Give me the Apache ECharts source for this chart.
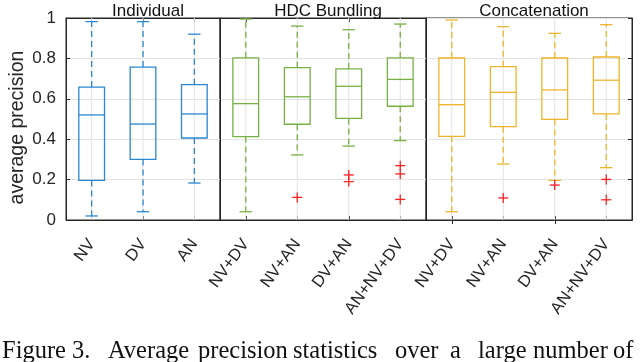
<!DOCTYPE html>
<html><head><meta charset="utf-8">
<script src="https://cdn.jsdelivr.net/npm/echarts@6/dist/echarts.min.js"></script>
<style>html,body{margin:0;padding:0;background:#fff}#c{width:640px;height:362px}</style>
</head><body><div id="c"></div><script>
// ---------- data ----------
const panelTitles = ['Individual', 'HDC Bundling', 'Concatenation'];
const catsIndividual = ['NV', 'DV', 'AN'];
const catsBundling = ['NV+DV', 'NV+AN', 'DV+AN', 'AN+NV+DV'];
const catsConcat = ['NV+DV', 'NV+AN', 'DV+AN', 'AN+NV+DV'];
// [lower whisker, Q1, median, Q3, upper whisker]
const statsIndividual = [
  [0.020, 0.196, 0.520, 0.658, 0.982],
  [0.041, 0.300, 0.475, 0.757, 0.982],
  [0.183, 0.406, 0.525, 0.670, 0.920]
];
const statsBundling = [
  [0.041, 0.413, 0.576, 0.803, 0.995],
  [0.322, 0.474, 0.610, 0.754, 0.960],
  [0.366, 0.503, 0.662, 0.748, 0.942],
  [0.393, 0.563, 0.696, 0.803, 0.970]
];
const statsConcat = [
  [0.041, 0.414, 0.571, 0.802, 0.990],
  [0.277, 0.462, 0.632, 0.759, 0.957],
  [0.196, 0.498, 0.644, 0.802, 0.924],
  [0.259, 0.525, 0.692, 0.807, 0.967]
];
// outliers: [category index, value]
const outIndividual = [];
const outBundling = [[1, 0.112], [2, 0.223], [2, 0.190], [3, 0.269], [3, 0.228], [3, 0.102]];
const outConcat = [[1, 0.109], [2, 0.173], [3, 0.201], [3, 0.100]];
const yAxisTitle = 'average precision';
const captionWords = ['Figure', '3.', 'Average', 'precision', 'statistics', 'over', 'a', 'large', 'number', 'of'];

// ---------- layout / style ----------
const captionX = [2, 72, 108, 198, 293, 395, 450, 478, 533, 613];
const colors = ['#2b87cf', '#78b143', '#efb52a'];
const FONT = 'Liberation Sans, Arial, Helvetica, sans-serif';
const TXT = '#262626';
const gridsPos = [{left: 66, width: 154}, {left: 220, width: 206}, {left: 426, width: 206}];
const cats = [catsIndividual, catsBundling, catsConcat];
const stats = [statsIndividual, statsBundling, statsConcat];
const outs = [outIndividual, outBundling, outConcat];

function boxRender(color) {
  return function (params, api) {
    const i = api.value(0);
    const slot = api.size([1, 0])[0];
    const bw = slot * 0.5, cw = slot * 0.24;
    const c = v => api.coord([i, v]);
    const lo = c(api.value(1)), q1 = c(api.value(2)), md = c(api.value(3)), q3 = c(api.value(4)), hi = c(api.value(5));
    const x = md[0];
    const solid = {stroke: color, lineWidth: 1.3, fill: null};
    const dashed = {stroke: color, lineWidth: 1.3, fill: null, lineDash: [6, 4]};
    return {
      type: 'group',
      children: [
        {type: 'line', shape: {x1: x, y1: q3[1], x2: x, y2: hi[1]}, style: dashed},
        {type: 'line', shape: {x1: x, y1: q1[1], x2: x, y2: lo[1]}, style: dashed},
        {type: 'line', shape: {x1: x - cw / 2, y1: hi[1], x2: x + cw / 2, y2: hi[1]}, style: solid},
        {type: 'line', shape: {x1: x - cw / 2, y1: lo[1], x2: x + cw / 2, y2: lo[1]}, style: solid},
        {type: 'rect', shape: {x: x - bw / 2, y: q3[1], width: bw, height: q1[1] - q3[1]}, style: solid},
        {type: 'line', shape: {x1: x - bw / 2, y1: md[1], x2: x + bw / 2, y2: md[1]}, style: solid}
      ]
    };
  };
}
function outlierRender(params, api) {
  const p = api.coord([api.value(0), api.value(1)]);
  const h = 5;
  const st = {stroke: '#ff2020', lineWidth: 1.3};
  return {type: 'group', children: [
    {type: 'line', shape: {x1: p[0] - h, y1: p[1], x2: p[0] + h, y2: p[1]}, style: st},
    {type: 'line', shape: {x1: p[0], y1: p[1] - h, x2: p[0], y2: p[1] + h}, style: st}
  ]};
}
function vgridRender(params, api) {
  const a = api.coord([api.value(0), 0]), b = api.coord([api.value(0), 1]);
  return {type: 'line', shape: {x1: a[0], y1: a[1], x2: b[0], y2: b[1]}, style: {stroke: '#e3e3e3', lineWidth: 1}};
}

const grids = [], xAxes = [], yAxes = [], series = [], titles = [];
for (let g = 0; g < 3; g++) {
  grids.push({left: gridsPos[g].left, width: gridsPos[g].width, top: 18, height: 202,
    show: true, borderColor: TXT, borderWidth: 1, backgroundColor: 'transparent'});
  titles.push({text: panelTitles[g], left: gridsPos[g].left + gridsPos[g].width / 2, top: -2, textAlign: 'center',
    textStyle: {fontFamily: FONT, fontSize: 17, fontWeight: 'normal', color: '#111'}});
  xAxes.push({type: 'category', gridIndex: g, data: cats[g], position: 'bottom',
    axisLine: {lineStyle: {color: TXT, width: 1}},
    axisTick: {show: true, alignWithLabel: true, inside: true, length: 4, lineStyle: {color: TXT}},
    axisLabel: {interval: 0, rotate: 54, margin: 21, fontFamily: FONT, fontSize: 16.5, color: TXT},
    splitLine: {show: false}});
  xAxes.push({type: 'category', gridIndex: g, data: cats[g], position: 'top',
    axisLine: {lineStyle: {color: TXT, width: 1}},
    axisTick: {show: true, alignWithLabel: true, inside: true, length: 4, lineStyle: {color: TXT}},
    axisLabel: {show: false}, splitLine: {show: false}});
  yAxes.push({type: 'value', gridIndex: g, min: 0, max: 1, interval: 0.2, position: 'left',
    name: g === 0 ? yAxisTitle : '', nameLocation: 'middle', nameGap: 38,
    nameTextStyle: {fontFamily: FONT, fontSize: 19.5, color: TXT, padding: [0, 17, 0, 0]},
    axisLine: {show: true, lineStyle: {color: TXT}},
    axisTick: {show: g === 0, inside: true, length: 4, lineStyle: {color: TXT}},
    axisLabel: {show: g === 0, fontFamily: FONT, fontSize: 17, color: TXT, margin: 10},
    splitLine: {show: true, lineStyle: {color: '#e3e3e3', width: 1}}});
  series.push({type: 'custom', xAxisIndex: 2 * g, yAxisIndex: yAxes.length - 1, z: 1, silent: true,
    renderItem: vgridRender, data: cats[g].map((c, i) => [i]), encode: {x: 0}});
  series.push({type: 'custom', xAxisIndex: 2 * g, yAxisIndex: yAxes.length - 1, z: 3, silent: true,
    renderItem: boxRender(colors[g]), data: stats[g].map((s, i) => [i].concat(s)), encode: {x: 0, y: [1, 2, 3, 4, 5]}});
  series.push({type: 'custom', xAxisIndex: 2 * g, yAxisIndex: yAxes.length - 1, z: 4, silent: true,
    renderItem: outlierRender, data: outs[g], encode: {x: 0, y: 1}});
}
// right-side ticks on last panel
yAxes.push({type: 'value', gridIndex: 2, min: 0, max: 1, interval: 0.2, position: 'right',
  axisLine: {show: true, lineStyle: {color: TXT}},
  axisTick: {show: true, inside: true, length: 4, lineStyle: {color: TXT}},
  axisLabel: {show: false}, splitLine: {show: false}});

const graphics = captionWords.map((w, k) => ({
  type: 'text', left: captionX[k], top: 339,
  style: {text: w, font: '24.5px "Liberation Serif", "Times New Roman", serif', fill: '#111'}
}));

const chart = echarts.init(document.getElementById('c'), null, {renderer: 'canvas'});
chart.setOption({
  animation: false,
  backgroundColor: '#fff',
  title: titles,
  grid: grids, xAxis: xAxes, yAxis: yAxes, series: series,
  graphic: graphics
});
</script></body></html>
